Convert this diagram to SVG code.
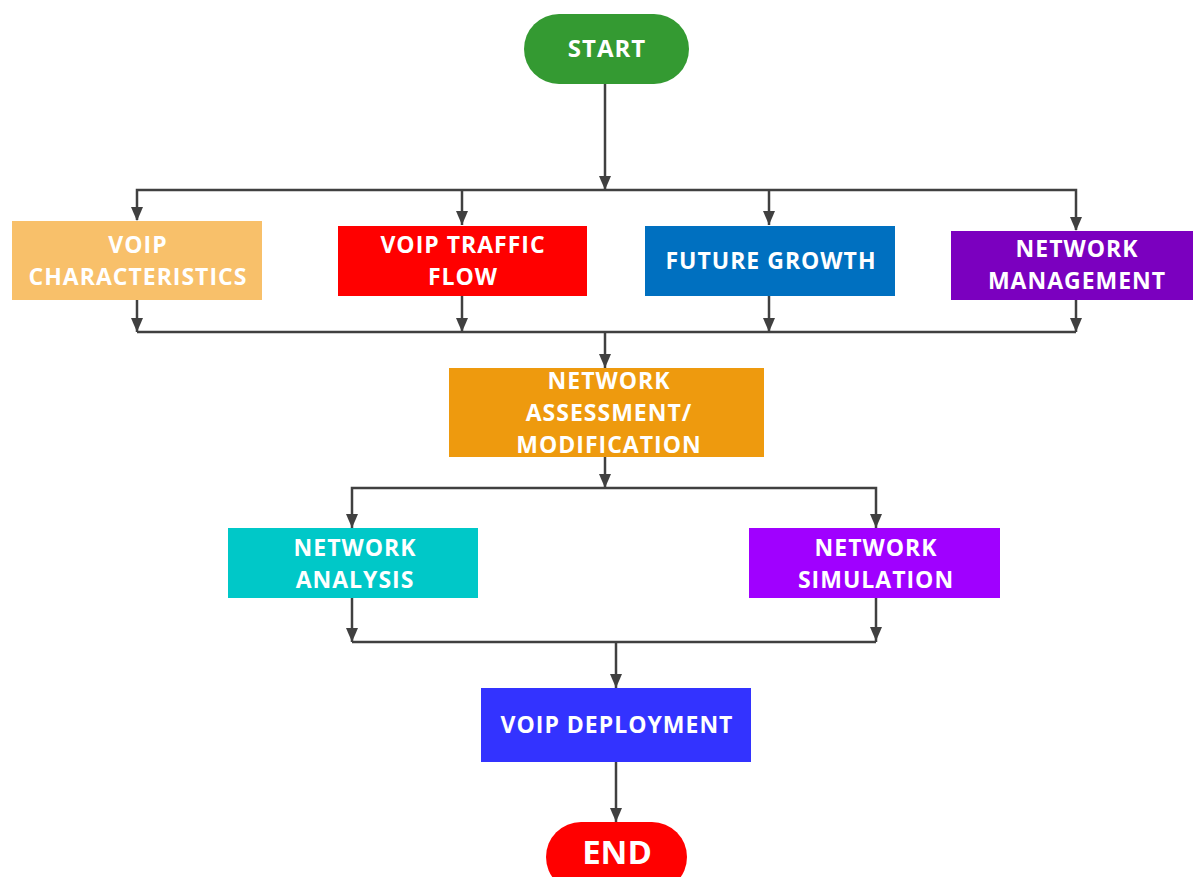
<svg xmlns="http://www.w3.org/2000/svg" width="1193" height="877" viewBox="0 0 1193 877">
<defs>
<style>
.ln{fill:none;stroke:#404040;stroke-width:2.5}
.t{font-family:"Open Sans","Noto Sans",sans-serif;font-weight:700;font-size:23px;letter-spacing:1px;fill:#ffffff;text-anchor:middle;dominant-baseline:central}
</style>
</defs>
<rect width="1193" height="877" fill="#ffffff"/>
<g id="connectors">
<path class="ln" d="M605,84 V190"/>
<path class="ln" d="M137,220 V190 H1076 V230"/>
<path class="ln" d="M462,190 V225"/>
<path class="ln" d="M769,190 V225"/>
<path class="ln" d="M137,300 V332"/>
<path class="ln" d="M462,296 V332"/>
<path class="ln" d="M769,296 V332"/>
<path class="ln" d="M1076,300 V332"/>
<path class="ln" d="M137,332 H1076"/>
<path class="ln" d="M605,332 V368"/>
<path class="ln" d="M605,457 V488"/>
<path class="ln" d="M352,528 V488 H876 V528"/>
<path class="ln" d="M352,598 V642"/>
<path class="ln" d="M876,598 V642"/>
<path class="ln" d="M352,642 H876"/>
<path class="ln" d="M616,642 V688"/>
<path class="ln" d="M616,762 V822"/>
<g fill="#404040">
<path d="M599,176 L611,176 L605,190 Z"/>
<path d="M131,207 L143,207 L137,221 Z"/>
<path d="M456,211 L468,211 L462,225 Z"/>
<path d="M763,211 L775,211 L769,225 Z"/>
<path d="M1070,217 L1082,217 L1076,231 Z"/>
<path d="M131,318 L143,318 L137,332 Z"/>
<path d="M456,318 L468,318 L462,332 Z"/>
<path d="M763,318 L775,318 L769,332 Z"/>
<path d="M1070,318 L1082,318 L1076,332 Z"/>
<path d="M599,354 L611,354 L605,368 Z"/>
<path d="M599,474 L611,474 L605,488 Z"/>
<path d="M346,514 L358,514 L352,528 Z"/>
<path d="M870,514 L882,514 L876,528 Z"/>
<path d="M346,628 L358,628 L352,642 Z"/>
<path d="M870,627 L882,627 L876,641 Z"/>
<path d="M610,674 L622,674 L616,688 Z"/>
<path d="M610,808 L622,808 L616,822 Z"/>
</g>
</g>
<g id="start">
<rect x="524" y="14" width="165" height="70" rx="35" fill="#349A32"/>
<text class="t" x="607" y="47" style="font-size:24px">START</text>
</g>
<g id="voip-characteristics">
<rect x="12" y="221" width="250" height="79" fill="#F8C06A"/>
<text class="t" x="138" y="244">VOIP</text>
<text class="t" x="138" y="276">CHARACTERISTICS</text>
</g>
<g id="voip-traffic-flow">
<rect x="338" y="226" width="249" height="70" fill="#FF0000"/>
<text class="t" x="463" y="244">VOIP TRAFFIC</text>
<text class="t" x="463" y="276">FLOW</text>
</g>
<g id="future-growth">
<rect x="645" y="226" width="250" height="70" fill="#0070C0"/>
<text class="t" x="771" y="260">FUTURE GROWTH</text>
</g>
<g id="network-management">
<rect x="951" y="231" width="242" height="69" fill="#7B00BF"/>
<text class="t" x="1077" y="248">NETWORK</text>
<text class="t" x="1077" y="280">MANAGEMENT</text>
</g>
<g id="network-assessment">
<rect x="449" y="368" width="315" height="89" fill="#EE9A0E"/>
<text class="t" x="609" y="380">NETWORK</text>
<text class="t" x="609" y="412">ASSESSMENT/</text>
<text class="t" x="609" y="444">MODIFICATION</text>
</g>
<g id="network-analysis">
<rect x="228" y="528" width="250" height="70" fill="#00C8C8"/>
<text class="t" x="355" y="547">NETWORK</text>
<text class="t" x="355" y="579">ANALYSIS</text>
</g>
<g id="network-simulation">
<rect x="749" y="528" width="251" height="70" fill="#A000FF"/>
<text class="t" x="876" y="547">NETWORK</text>
<text class="t" x="876" y="579">SIMULATION</text>
</g>
<g id="voip-deployment">
<rect x="481" y="688" width="270" height="74" fill="#3333FF"/>
<text class="t" x="617" y="724">VOIP DEPLOYMENT</text>
</g>
<g id="end">
<rect x="546" y="822" width="141" height="70" rx="35" fill="#FF0000"/>
<text class="t" x="617" y="851" style="font-size:33px;letter-spacing:0">END</text>
</g>
</svg>
